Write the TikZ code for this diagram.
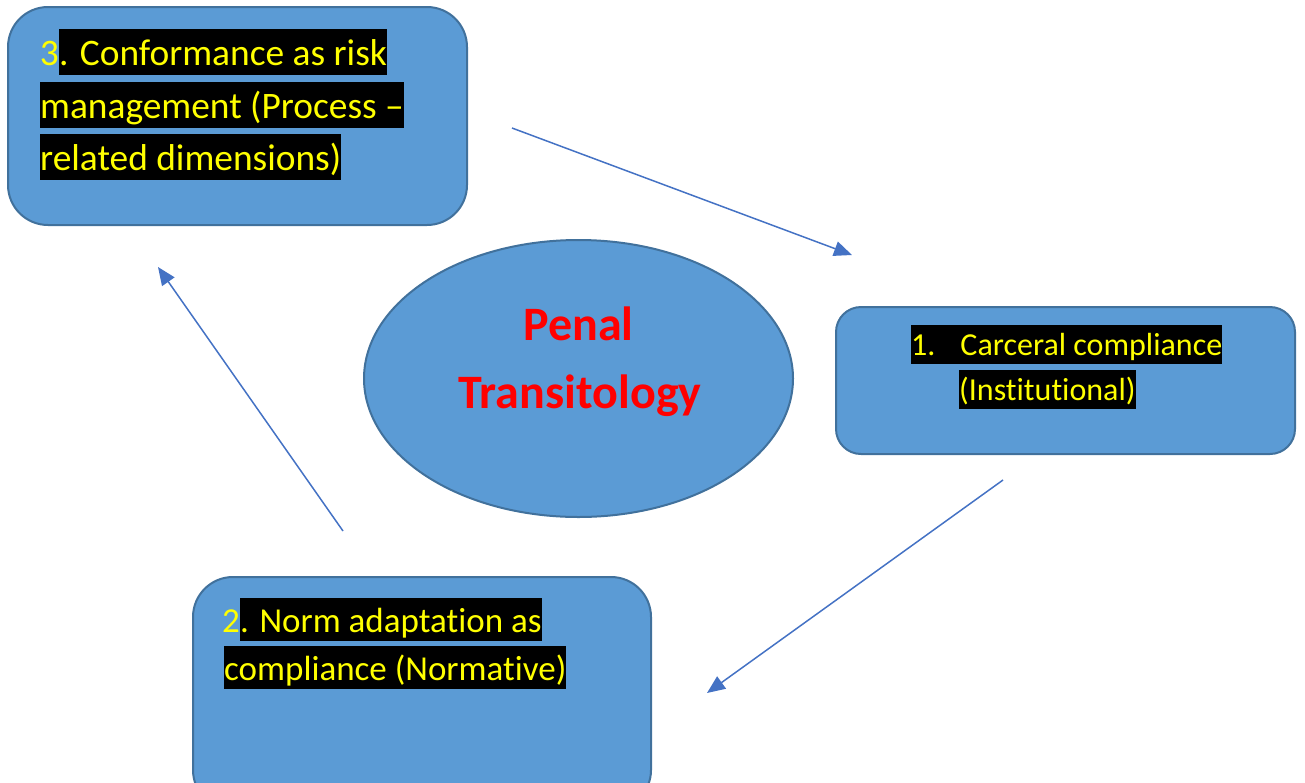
\documentclass[tikz,border=0pt]{standalone}
\usepackage{fontspec}
\setmainfont{Carlito}[Ligatures={NoCommon}]
\usetikzlibrary{arrows.meta}
\definecolor{boxfill}{HTML}{5B9BD5}
\definecolor{boxline}{HTML}{41719C}
\definecolor{arrowc}{HTML}{4472C4}
\definecolor{hlyellow}{HTML}{FFFF00}
\tikzset{
  panel/.style={draw=boxline, fill=boxfill, line width=2pt},
  hlA/.style={fill=black, text=hlyellow, inner xsep=0pt, inner ysep=3pt, anchor=base west, font=\fontsize{37.4}{44}\selectfont, text height=33pt, text depth=7pt},
  hlB/.style={fill=black, text=hlyellow, inner xsep=0pt, inner ysep=3pt, anchor=base west, font=\fontsize{32}{38}\selectfont, text height=27pt, text depth=6pt},
  hlC/.style={fill=black, text=hlyellow, inner xsep=0pt, inner ysep=3pt, anchor=base west, font=\fontsize{35}{42}\selectfont, text height=31pt, text depth=6pt},
  digit/.style={text=hlyellow, inner sep=0pt, anchor=base east},
  flow/.style={draw=arrowc, line width=1.5pt, -{Triangle[length=18pt,width=15pt]}},
  title/.style={text=red, inner sep=0pt, anchor=base, font=\bfseries\fontsize{48}{56}\selectfont}
}
\begin{document}
\begin{tikzpicture}[x=1pt,y=-1pt]
\useasboundingbox (0,0) rectangle (1305,782);
\clip (0,0) rectangle (1305,782);
% boxes
\draw[panel, rounded corners=40pt] (8,7) rectangle (467,225);
\draw[panel, rounded corners=25pt] (836,307) rectangle (1295,454);
\draw[panel, rounded corners=40pt] (193,577) rectangle (651,810);
\draw[panel] (578.5,378.5) ellipse [x radius=214.5, y radius=138.5];
% centre title
\node[title] (t1) at (578.5,340) {Penal};
\node[title] (t2) at (580,408) {Transitology};
% box 3 text
\node[hlA] (a1) at (59,65) {. Conformance as risk};
\node[digit, font=\fontsize{37.4}{44}\selectfont] (a0) at (a1.base west) {3};
\node[hlA] (a2) at (40,118) {management (Process \textendash};
\node[hlA] (a3) at (40,170) {related dimensions)};
% box 1 text
\node[hlB] (b1) at (911,355) {1.\hspace{25pt}Carceral compliance};
\node[hlB] (b2) at (959,400) {(Institutional)};
% box 2 text
\node[hlC] (c1) at (240,632) {. Norm adaptation as};
\node[digit, font=\fontsize{35}{42}\selectfont] (c0) at (c1.base west) {2};
\node[hlC] (c2) at (224,680) {compliance (Normative)};
% arrows
\coordinate (s1) at (512,128);
\coordinate (e1) at (852,255);
\coordinate (s2) at (1003,480);
\coordinate (e2) at (707,693);
\coordinate (s3) at (343,531);
\coordinate (e3) at (158,267);
\draw[flow] (s1) -- (e1);
\draw[flow] (s2) -- (e2);
\draw[flow] (s3) -- (e3);
\end{tikzpicture}
\end{document}
